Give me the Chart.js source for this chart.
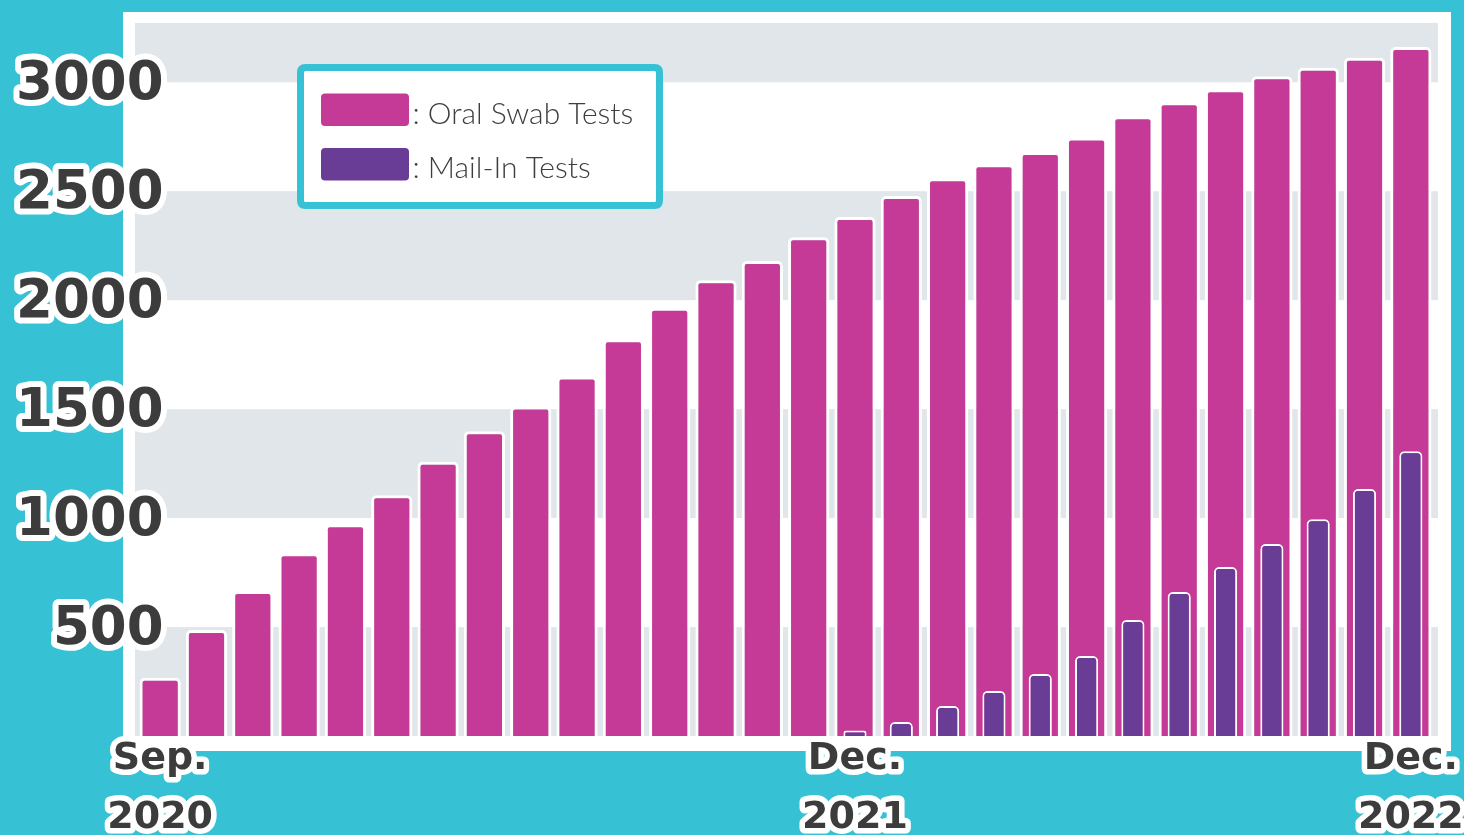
<!DOCTYPE html>
<html>
<head>
<meta charset="utf-8">
<script src="https://cdn.jsdelivr.net/npm/chart.js@4.4.1/dist/chart.umd.min.js"></script>
<style>
  html, body { margin: 0; padding: 0; background: #36C1D5; }
  #wrap { width: 1464px; height: 835px; position: relative; }
</style>
</head>
<body>
<div id="wrap"><canvas id="c"></canvas></div>
<script>
// ---- Data ----
const categories = [
  'Sep 2020','Oct 2020','Nov 2020','Dec 2020',
  'Jan 2021','Feb 2021','Mar 2021','Apr 2021','May 2021','Jun 2021',
  'Jul 2021','Aug 2021','Sep 2021','Oct 2021','Nov 2021','Dec 2021',
  'Jan 2022','Feb 2022','Mar 2022','Apr 2022','May 2022','Jun 2022',
  'Jul 2022','Aug 2022','Sep 2022','Oct 2022','Nov 2022','Dec 2022'
];
const oralSwabTests = [
  267, 486, 665, 839, 972, 1105, 1258, 1399, 1512, 1650,
  1821, 1965, 2092, 2180, 2289, 2382, 2478, 2560, 2624, 2680,
  2746, 2844, 2908, 2968, 3028, 3067, 3113, 3162
];
const mailInTests = [
  null, null, null, null, null, null, null, null, null, null,
  null, null, null, null, null, 25, 64, 138, 206, 284,
  367, 532, 661, 775, 881, 995, 1133, 1307
];
const shownTickLabels = {
  'Sep 2020': ['Sep.', '2020'],
  'Dec 2021': ['Dec.', '2021'],
  'Dec 2022': ['Dec.', '2022']
};
const yTickValues = [500, 1000, 1500, 2000, 2500, 3000];
const yMax = 3272;
const seriesNames = ['Oral Swab Tests', 'Mail-In Tests'];

// ---- Colours ----
const CYAN = '#36C1D5';
const PINK = '#C43A96';
const PURPLE = '#693C96';
const BAND = '#E1E6EA';
const TEXT = '#3C3C3C';

const backgroundPlugin = {
  id: 'panelBands',
  beforeDraw(chart) {
    const {ctx, chartArea: a, scales: {y}} = chart;
    ctx.save();
    ctx.fillStyle = CYAN;
    ctx.fillRect(0, 0, chart.width, chart.height);
    const L = a.left - 2, R = a.right + 4;
    ctx.fillStyle = '#FFFFFF';
    ctx.fillRect(L - 12, a.top - 11, (R - L) + 25, (a.bottom - a.top) + 26);
    ctx.fillStyle = BAND;
    for (let v = 0, k = 0; v < yMax; v += 500, k++) {
      if (k % 2 === 0) {
        const top = y.getPixelForValue(Math.min(v + 500, yMax));
        const bot = y.getPixelForValue(v);
        ctx.fillRect(L, top, R - L, bot - top);
      }
    }
    ctx.restore();
    ctx.lineJoin = 'round';
    ctx.miterLimit = 2;
  }
};

function roundRect(ctx, x, y, w, h, r) {
  ctx.beginPath();
  ctx.moveTo(x + r, y);
  ctx.lineTo(x + w - r, y);
  ctx.quadraticCurveTo(x + w, y, x + w, y + r);
  ctx.lineTo(x + w, y + h - r);
  ctx.quadraticCurveTo(x + w, y + h, x + w - r, y + h);
  ctx.lineTo(x + r, y + h);
  ctx.quadraticCurveTo(x, y + h, x, y + h - r);
  ctx.lineTo(x, y + r);
  ctx.quadraticCurveTo(x, y, x + r, y);
  ctx.closePath();
}

const legendPlugin = {
  id: 'boxLegend',
  afterDraw(chart) {
    const {ctx, chartArea: a} = chart;
    const bx = a.left + 163.5, by = a.top + 44.5, bw = 359, bh = 138;
    ctx.save();
    roundRect(ctx, bx, by, bw, bh, 5);
    ctx.fillStyle = '#FFFFFF';
    ctx.fill();
    ctx.lineWidth = 7;
    ctx.strokeStyle = CYAN;
    ctx.stroke();
    const items = [chart.data.datasets.find(d => d.label === seriesNames[0]),
                   chart.data.datasets.find(d => d.label === seriesNames[1])];
    items.forEach((ds, i) => {
      const sy = by + 26 + i * 54.5;
      roundRect(ctx, bx + 20.5, sy, 88, 32.5, 4);
      ctx.fillStyle = ds.backgroundColor;
      ctx.fill();
      ctx.fillStyle = '#3E3E3E';
      ctx.font = '300 30px Lato, "Open Sans", sans-serif';
      ctx.textBaseline = 'alphabetic';
      ctx.textAlign = 'left';
      ctx.fillText(': ' + ds.label, bx + 112, sy + 30);
    });
    ctx.restore();
  }
};

new Chart(document.getElementById('c'), {
  type: 'bar',
  data: {
    labels: categories,
    datasets: [
      {
        label: seriesNames[1],
        data: mailInTests,
        backgroundColor: PURPLE,
        borderColor: '#FFFFFF',
        borderWidth: 2,
        borderRadius: 5,
        borderSkipped: 'bottom',
        grouped: false,
        barPercentage: 0.5,
        categoryPercentage: 1,
        order: 0
      },
      {
        label: seriesNames[0],
        data: oralSwabTests,
        backgroundColor: PINK,
        borderColor: '#FFFFFF',
        borderWidth: 3,
        borderRadius: 5,
        borderSkipped: 'bottom',
        grouped: false,
        barPercentage: 0.89,
        categoryPercentage: 1,
        order: 1
      }
    ]
  },
  options: {
    responsive: true,
    maintainAspectRatio: false,
    animation: false,
    events: [],
    layout: { padding: { top: 23, right: 30, left: 0, bottom: 0 } },
    plugins: {
      legend: { display: false },
      tooltip: { enabled: false }
    },
    scales: {
      x: {
        z: 1,
        grid: { display: false, drawTicks: false, tickLength: 0 },
        border: { display: false },
        ticks: {
          autoSkip: false,
          maxRotation: 0,
          minRotation: 0,
          padding: -6,
          color: TEXT,
          textStrokeColor: '#FFFFFF',
          textStrokeWidth: 11,
          font: { family: '"DejaVu Sans"', weight: 'bold', size: 38, lineHeight: '59px' },
          callback: function (value) {
            const lab = this.getLabelForValue(value);
            return shownTickLabels[lab] || '';
          }
        },
        afterFit(scale) { scale.height = 99; }
      },
      y: {
        min: 0,
        max: yMax,
        grid: { display: false, drawTicks: false, tickLength: 0 },
        border: { display: false },
        ticks: {
          mirror: true,
          crossAlign: 'far',
          padding: -121,
          labelOffset: 3,
          color: TEXT,
          textStrokeColor: '#FFFFFF',
          textStrokeWidth: 12,
          font: { family: '"DejaVu Sans"', weight: 'bold', size: 53 },
          callback: (v) => String(v)
        },
        afterBuildTicks(scale) {
          scale.ticks = yTickValues.map(v => ({ value: v }));
        },
        afterFit(scale) { scale.width = 137; }
      }
    }
  },
  plugins: [backgroundPlugin, legendPlugin]
});
</script>
</body>
</html>
